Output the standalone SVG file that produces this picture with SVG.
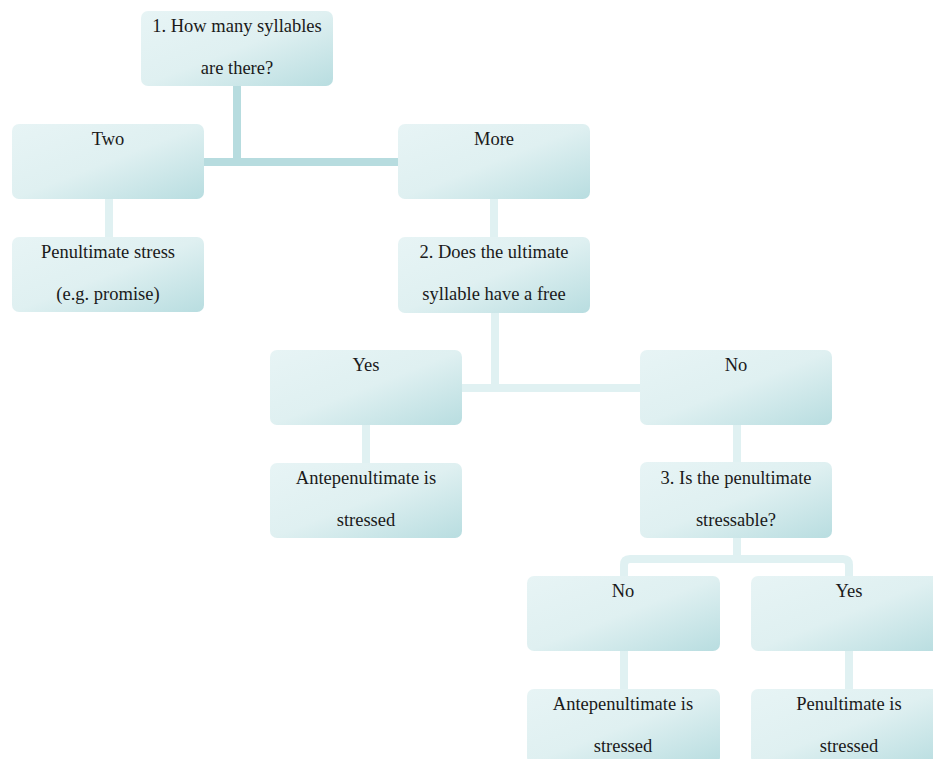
<svg xmlns="http://www.w3.org/2000/svg" width="933" height="759" viewBox="0 0 933 759">
<defs>
<linearGradient id="g" x1="0" y1="0" x2="1" y2="1">
<stop offset="0" stop-color="#e7f4f5"/>
<stop offset="0.5" stop-color="#dff0f1"/>
<stop offset="1" stop-color="#b8dde0"/>
</linearGradient>
</defs>
<style>
.box{fill:url(#g);}
.t{font-family:"Liberation Serif","Times New Roman",serif;font-size:18.5px;fill:#1a1a1a;text-anchor:middle;}
.cd{stroke:#b7dcdf;stroke-width:8;fill:none;}
.cl{stroke:#e0f1f2;stroke-width:8;fill:none;}
</style>
<rect width="933" height="759" fill="#ffffff"/>
<g id="connectors">
<path class="cd" d="M237 86 V162 M204 162 H398"/>
<path class="cl" d="M109 199 V237"/>
<path class="cl" d="M494 199 V237"/>
<path class="cl" d="M495 313 V388 M462 388 H640"/>
<path class="cl" d="M366 425 V463"/>
<path class="cl" d="M737 425 V462"/>
<path class="cl" d="M737 538 V559 M624 576 V565 Q624 559 630 559 H843 Q849 559 849 565 V576"/>
<path class="cl" d="M624 651 V689"/>
<path class="cl" d="M849 651 V689"/>
</g>
<g id="n1"><rect class="box" x="141" y="11" width="192" height="75" rx="7"/><text class="t" x="237" y="32">1. How many syllables</text><text class="t" x="237" y="74">are there?</text></g>
<g id="n2"><rect class="box" x="12" y="124" width="192" height="75" rx="7"/><text class="t" x="108" y="145">Two</text></g>
<g id="n3"><rect class="box" x="398" y="124" width="192" height="75" rx="7"/><text class="t" x="494" y="145">More</text></g>
<g id="n4"><rect class="box" x="12" y="237" width="192" height="75" rx="7"/><text class="t" x="108" y="258">Penultimate stress</text><text class="t" x="108" y="300">(e.g. promise)</text></g>
<g id="n5"><rect class="box" x="398" y="237" width="192" height="76" rx="7"/><text class="t" x="494" y="258">2. Does the ultimate</text><text class="t" x="494" y="300">syllable have a free</text></g>
<g id="n6"><rect class="box" x="270" y="350" width="192" height="75" rx="7"/><text class="t" x="366" y="371">Yes</text></g>
<g id="n7"><rect class="box" x="640" y="350" width="192" height="75" rx="7"/><text class="t" x="736" y="371">No</text></g>
<g id="n8"><rect class="box" x="270" y="463" width="192" height="75" rx="7"/><text class="t" x="366" y="484">Antepenultimate is</text><text class="t" x="366" y="526">stressed</text></g>
<g id="n9"><rect class="box" x="640" y="462" width="192" height="76" rx="7"/><text class="t" x="736" y="484">3. Is the penultimate</text><text class="t" x="736" y="526">stressable?</text></g>
<g id="n10"><rect class="box" x="527" y="576" width="193" height="75" rx="7"/><text class="t" x="623" y="597">No</text></g>
<g id="n11"><rect class="box" x="751" y="576" width="192" height="75" rx="7"/><text class="t" x="849" y="597">Yes</text></g>
<g id="n12"><rect class="box" x="527" y="689" width="193" height="75" rx="7"/><text class="t" x="623" y="710">Antepenultimate is</text><text class="t" x="623" y="752">stressed</text></g>
<g id="n13"><rect class="box" x="751" y="689" width="192" height="75" rx="7"/><text class="t" x="849" y="710">Penultimate is</text><text class="t" x="849" y="752">stressed</text></g>
</svg>
